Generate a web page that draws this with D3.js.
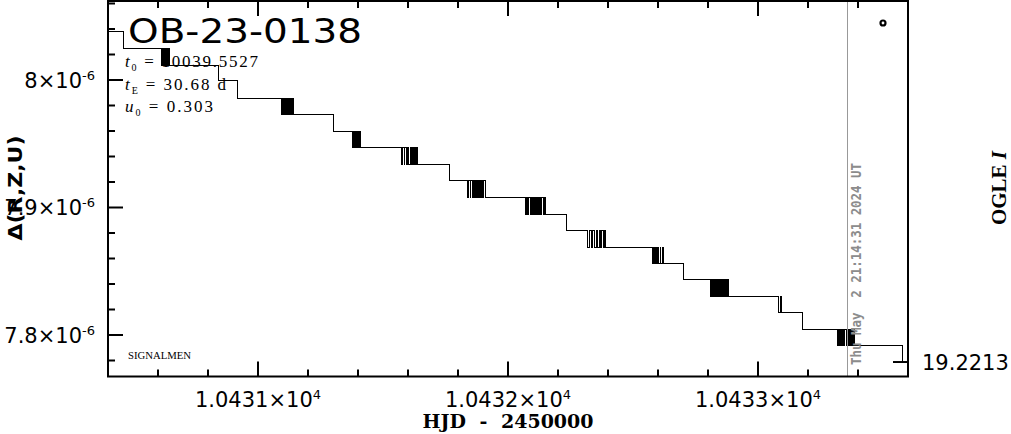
<!DOCTYPE html>
<html><head><meta charset="utf-8">
<script src="https://cdn.jsdelivr.net/npm/d3@7"></script>
<style>
html,body{margin:0;padding:0;background:#fff;}
svg{display:block;}
</style></head><body>
<svg id="chart" width="1011" height="434"></svg>
<script>
// ---------------- data ----------------
const eventName = "OB-23-0138";
const paramSymbols = ["t", "t", "u"];
const paramSubscripts = ["0", "E", "0"];
const paramValues = ["10039.5527", "30.68 d", "0.303"];
const footerLabel = "SIGNALMEN";
const xAxisTitle = "HJD - 2450000";
const yAxisTitle = "\u0394(R,Z,U)";
const rightAxisTitle = ["OGLE ", "I"];
const timestampText = "Thu May  2 21:14:31 2024 UT";
const timestampHJD = 10433.357;

// x axis (HJD - 2450000)
const xDomain = [10430.4, 10433.6];
const xMajorTicks = [10431, 10432, 10433];
const xMajorLabels = ["1.0431", "1.0432", "1.0433"];
const xMinorTicks = [10430.6, 10430.8, 10431.2, 10431.4, 10431.6, 10431.8, 10432.2, 10432.4, 10432.6, 10432.8, 10433.2, 10433.4];

// y axis (units of 1e-6)
const yDomain = [7.76745, 8.06196];
const yMajorTicks = [7.8, 7.9, 8.0];
const yMajorLabels = ["7.8", "7.9", "8"];
const yMinorTicks = [7.78, 7.82, 7.84, 7.86, 7.88, 7.92, 7.94, 7.96, 7.98, 8.02, 8.04, 8.06];
const yExponent = "-6";
const rightTickLabel = "19.2213";

// step levels of the curve (units of 1e-6)
const levels = [8.0379, 8.0249, 8.0112, 7.9996, 7.9856, 7.9731, 7.9595, 7.9472, 7.9339, 7.9213,
                7.9080, 7.8947, 7.8821, 7.8688, 7.8562, 7.8437, 7.8300, 7.8178, 7.8047, 7.7914, 7.7788];
// times at which the curve toggles between level k and level k+1
const jumps = [
  [10430.460],
  [10430.613, 10430.616, 10430.621, 10430.624, 10430.629, 10430.632, 10430.635, 10430.638, 10430.640, 10430.643, 10430.647],
  [10430.840],
  [10430.916],
  [10431.092, 10431.096, 10431.100, 10431.104, 10431.110, 10431.112, 10431.116, 10431.120, 10431.124, 10431.128, 10431.132, 10431.136, 10431.140],
  [10431.301],
  [10431.376, 10431.380, 10431.384, 10431.388, 10431.392, 10431.396, 10431.400, 10431.404, 10431.408],
  [10431.575, 10431.577, 10431.584, 10431.587, 10431.592, 10431.596, 10431.600, 10431.608, 10431.612, 10431.616, 10431.620, 10431.624, 10431.628, 10431.632, 10431.637],
  [10431.765],
  [10431.839, 10431.841, 10431.848, 10431.851, 10431.857, 10431.860, 10431.864, 10431.868, 10431.872, 10431.876, 10431.880, 10431.884, 10431.888, 10431.892, 10431.896, 10431.900, 10431.911],
  [10432.068, 10432.072, 10432.076, 10432.080, 10432.088, 10432.092, 10432.096, 10432.100, 10432.104, 10432.108, 10432.112, 10432.116, 10432.120, 10432.124, 10432.128, 10432.132, 10432.140, 10432.146, 10432.150],
  [10432.235],
  [10432.317, 10432.324, 10432.332, 10432.336, 10432.344, 10432.352, 10432.356, 10432.364, 10432.368, 10432.372, 10432.380, 10432.384, 10432.388],
  [10432.577, 10432.580, 10432.584, 10432.588, 10432.592, 10432.596, 10432.600, 10432.608, 10432.611, 10432.619, 10432.621],
  [10432.701],
  [10432.808, 10432.812, 10432.816, 10432.820, 10432.824, 10432.828, 10432.832, 10432.836, 10432.840, 10432.844, 10432.848, 10432.852, 10432.856, 10432.860, 10432.864, 10432.868, 10432.872, 10432.876, 10432.880],
  [10433.082, 10433.088, 10433.093],
  [10433.177],
  [10433.318, 10433.322, 10433.326, 10433.330, 10433.334, 10433.338, 10433.342, 10433.346, 10433.352, 10433.358, 10433.362, 10433.366, 10433.370, 10433.374, 10433.378, 10433.382, 10433.386],
  [10433.577]
];
// single OGLE point marker
const markerHJD = [10433.500];
const markerValue = [8.0447];

// ---------------- drawing ----------------
const svg = d3.select("#chart");
const x = d3.scaleLinear().domain(xDomain).range([108, 908]);
const y = d3.scaleLinear().domain(yDomain).range([376.5, 1]);

const pts = [[xDomain[0], levels[0]]];
jumps.forEach((group, k) => {
  group.forEach((t, j) => pts.push([t, j % 2 === 0 ? levels[k + 1] : levels[k]]));
});

const line = d3.line().x(d => x(d[0])).y(d => y(d[1])).curve(d3.curveStepAfter);
svg.append("path").datum(pts).attr("d", line)
  .attr("fill", "none").attr("stroke", "#000").attr("stroke-width", 1)
  .attr("shape-rendering", "crispEdges");

// timestamp line
svg.append("line").attr("x1", x(timestampHJD)).attr("x2", x(timestampHJD))
  .attr("y1", y(yDomain[1])).attr("y2", y(yDomain[0]))
  .attr("stroke", "#999").attr("stroke-width", 1).attr("shape-rendering", "crispEdges");
svg.append("text")
  .attr("transform", `translate(${x(timestampHJD) + 14},365) rotate(-90)`)
  .attr("font-family", "DejaVu Sans Mono").attr("font-weight", "bold").attr("font-size", 14)
  .attr("fill", "#8c8c8c").attr("textLength", 202).attr("lengthAdjust", "spacingAndGlyphs")
  .style("white-space", "pre").text(timestampText);

// marker
svg.selectAll("circle.mk").data(markerHJD).join("circle").attr("class", "mk")
  .attr("cx", d => x(d)).attr("cy", (d, i) => y(markerValue[i])).attr("r", 2.5)
  .attr("fill", "none").attr("stroke", "#000").attr("stroke-width", 2.2);

// frame
svg.append("rect").attr("x", 108).attr("y", 1).attr("width", 800).attr("height", 375.5)
  .attr("fill", "none").attr("stroke", "#000").attr("stroke-width", 2);

const ax = svg.append("g").attr("stroke", "#000").attr("stroke-width", 2);
const yb = y(yDomain[0]), yt = y(yDomain[1]);
function xt(vals, len) {
  ax.selectAll(null).data(vals).join("line")
    .attr("x1", d => x(d)).attr("x2", d => x(d)).attr("y1", yb).attr("y2", yb - len);
  ax.selectAll(null).data(vals).join("line")
    .attr("x1", d => x(d)).attr("x2", d => x(d)).attr("y1", yt).attr("y2", yt + len);
}
xt(xMajorTicks, 15); xt(xMinorTicks, 7);
function ytk(vals, len) {
  ax.selectAll(null).data(vals).join("line")
    .attr("x1", 108).attr("x2", 108 + len).attr("y1", d => y(d)).attr("y2", d => y(d));
}
ytk(yMajorTicks, 15); ytk(yMinorTicks, 7);
// right-hand tick at final level
const lastLevel = levels[levels.length - 1];
ax.append("line").attr("x1", 908).attr("x2", 893).attr("y1", y(lastLevel)).attr("y2", y(lastLevel));

// tick labels
const tickFont = "DejaVu Sans";
const xl = svg.selectAll("text.xl").data(xMajorTicks).join("text").attr("class", "xl")
  .attr("x", d => x(d)).attr("y", 407).attr("text-anchor", "middle")
  .attr("font-family", tickFont).attr("font-size", 21).attr("fill", "#000");
xl.append("tspan").text((d, i) => xMajorLabels[i] + "\u00d710");
xl.append("tspan").attr("dy", -8).attr("font-size", 13).text("4");

const yl = svg.selectAll("text.yl").data(yMajorTicks).join("text").attr("class", "yl")
  .attr("x", 95).attr("y", d => y(d) + 8).attr("text-anchor", "end")
  .attr("font-family", tickFont).attr("font-size", 21).attr("fill", "#000");
yl.append("tspan").text((d, i) => yMajorLabels[i] + "\u00d710");
yl.append("tspan").attr("dy", -8).attr("font-size", 13).text(yExponent);

svg.append("text").attr("x", 922).attr("y", y(lastLevel) + 8)
  .attr("font-family", tickFont).attr("font-size", 21).attr("fill", "#000").text(rightTickLabel);

// axis titles
svg.append("text").attr("x", 508).attr("y", 428).attr("text-anchor", "middle")
  .attr("font-family", "DejaVu Serif").attr("font-weight", "bold").attr("font-size", 19)
  .attr("word-spacing", 7).text(xAxisTitle);
svg.append("text").attr("transform", "translate(22,188) rotate(-90)").attr("text-anchor", "middle")
  .attr("font-family", "DejaVu Sans").attr("font-weight", "bold").attr("font-size", 20)
  .attr("textLength", 105).attr("lengthAdjust", "spacingAndGlyphs").text(yAxisTitle);
const rt = svg.append("text").attr("transform", "translate(1006,188) rotate(-90)").attr("text-anchor", "middle")
  .attr("font-family", "Liberation Serif").attr("font-weight", "bold").attr("font-size", 21);
rt.append("tspan").text(rightAxisTitle[0]);
rt.append("tspan").attr("font-style", "italic").text(rightAxisTitle[1]);

// title & params
svg.append("text").attr("x", 128).attr("y", 43)
  .attr("font-family", "DejaVu Sans").attr("font-size", 34)
  .attr("textLength", 234).attr("lengthAdjust", "spacingAndGlyphs").text(eventName);
const baseY = [67, 90, 112];
const paramWidths = [133, 101, 88];
paramSymbols.forEach((s, i) => {
  const t = svg.append("text").attr("x", 125).attr("y", baseY[i])
    .attr("font-family", "Liberation Serif").attr("font-size", 17).style("white-space", "pre")
    .attr("textLength", paramWidths[i]).attr("lengthAdjust", "spacing");
  t.append("tspan").attr("font-style", "italic").text(s);
  t.append("tspan").attr("font-size", 10).attr("dy", 4).text(paramSubscripts[i]);
  t.append("tspan").attr("dy", -4).text(" = " + paramValues[i]);
});
svg.append("text").attr("x", 128).attr("y", 359)
  .attr("font-family", "Liberation Serif").attr("font-size", 10)
  .attr("textLength", 63).attr("lengthAdjust", "spacingAndGlyphs").text(footerLabel);
</script>
</body></html>
